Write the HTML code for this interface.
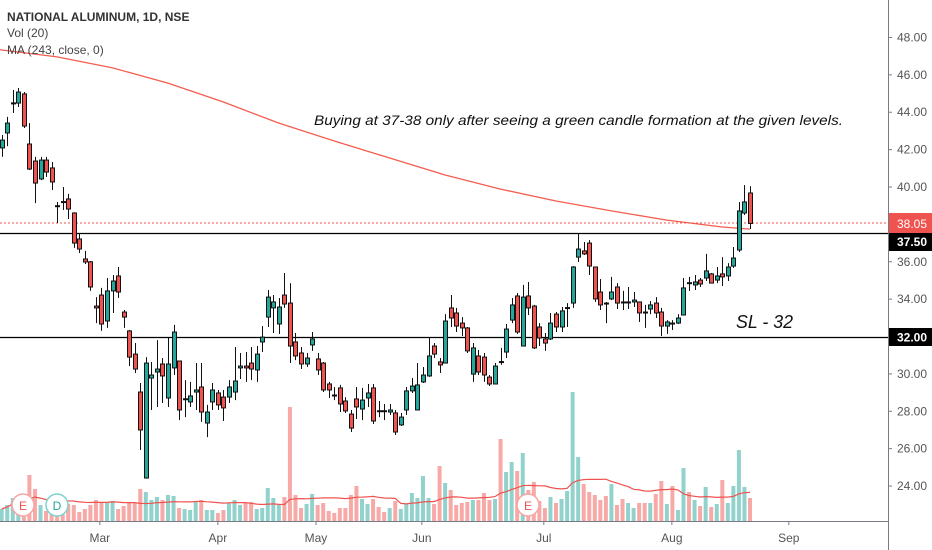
<!DOCTYPE html>
<html><head><meta charset="utf-8">
<style>
html,body{margin:0;padding:0;background:#fff;}
svg{display:block;font-family:"Liberation Sans",sans-serif;}
</style></head>
<body>
<svg id="chart" width="932" height="550" viewBox="0 0 932 550" xmlns="http://www.w3.org/2000/svg">
  <rect x="0" y="0" width="932" height="550" fill="#fff"/>
  <g id="vol"></g>
  <g id="volma"></g>
  <g id="ma"></g>
  <line x1="0" x2="888" y1="223" y2="223" stroke="#ef5350" stroke-width="1" stroke-dasharray="2,2"/>
  <line x1="0" x2="888" y1="233.5" y2="233.5" stroke="#000" stroke-width="1.2"/>
  <line x1="0" x2="888" y1="337.5" y2="337.5" stroke="#000" stroke-width="1.2"/>
  <g id="candles"></g>
  <g id="markers">
    <g><circle cx="23" cy="505" r="11" fill="#fff" stroke="#f7a5a4" stroke-width="1.5"/><text x="23" y="510" font-size="12" fill="#ef5350" text-anchor="middle">E</text></g>
    <g><circle cx="57" cy="505" r="11" fill="#fff" stroke="#7dd3cb" stroke-width="1.5"/><text x="57" y="510" font-size="12" fill="#26a69a" text-anchor="middle">D</text></g>
    <g><circle cx="528" cy="505" r="11" fill="#fff" stroke="#f7a5a4" stroke-width="1.5"/><text x="528" y="510" font-size="12" fill="#ef5350" text-anchor="middle">E</text></g>
  </g>
  <line x1="0" x2="888" y1="521.5" y2="521.5" stroke="#787b86" stroke-width="1"/>
  <line x1="888.5" x2="888.5" y1="0" y2="550" stroke="#787b86" stroke-width="1"/>
  <g id="xaxis"></g>
  <g id="yaxis"></g>
  <g>
    <rect x="889" y="213" width="43" height="20" fill="#ef5350"/>
    <text x="897" y="228" font-size="12" fill="#fff">38.05</text>
    <rect x="889" y="233" width="43" height="18" fill="#000"/>
    <text x="897" y="246" font-size="12" fill="#fff" font-weight="bold">37.50</text>
    <rect x="889" y="328" width="43" height="18" fill="#000"/>
    <text x="897" y="341.5" font-size="12" fill="#fff" font-weight="bold">32.00</text>
  </g>
  <text x="7" y="21" font-size="12" font-weight="bold" fill="#333">NATIONAL ALUMINUM, 1D, NSE</text>
  <text x="7" y="37" font-size="12" fill="#444">Vol (20)</text>
  <text x="7" y="54" font-size="12" fill="#444">MA (243, close, 0)</text>
  <text x="314" y="125" font-size="14" font-style="italic" fill="#111" textLength="529" lengthAdjust="spacingAndGlyphs">Buying at 37-38 only after seeing a green candle formation at the given levels.</text>
  <text x="736" y="328" font-size="18" font-style="italic" fill="#111" textLength="57" lengthAdjust="spacingAndGlyphs">SL - 32</text>
</svg>
<script>
const opens=[42.09,42.89,44.45,44.49,44.98,42.30,41.39,40.43,41.44,41.02,39.0,39.22,39.36,38.61,37.22,36.15,36.0,33.63,34.22,32.83,34.44,35.24,33.31,32.30,31.06,29.03,24.43,29.78,30.1,30.53,28.71,30.32,30.69,28.63,28.50,29.03,29.3,27.37,28.5,28.98,28.76,28.76,29.03,30.32,30.42,30.58,30.21,31.71,33.04,33.53,32.67,34.22,33.79,31.71,31.12,30.53,31.55,30.8,30.58,29.46,28.87,29.25,28.55,27.85,28.66,28.12,28.71,29.25,28.03,28.03,27.96,27.91,27.27,28.07,29.09,28.07,29.57,29.89,31.49,30.64,30.58,33.53,33.26,32.72,32.46,29.99,30.96,30.9,29.83,29.46,30.66,31.17,32.88,34.17,31.49,34.17,33.63,32.51,31.87,31.87,33.2,32.51,33.5,33.79,36.25,36.58,37.0,35.72,34.38,33.79,34.01,34.65,33.85,33.83,33.85,33.85,33.31,33.47,33.79,33.31,32.56,32.72,32.72,33.15,34.88,34.76,35.02,35.13,35.35,35.02,35.35,35.24,35.77,36.63,38.61,39.68];
const highs=[42.78,43.75,45.19,45.30,45.08,43.42,41.61,41.61,41.61,41.34,39.20,40.0,39.63,38.65,37.54,36.58,36.04,34.11,34.6,35.13,35.29,35.72,33.42,32.35,31.65,29.51,30.9,30.64,31.81,30.85,31.92,32.62,30.69,29.67,29.57,30.58,30.58,28.34,29.51,29.14,29.14,29.67,31.44,31.12,31.17,31.44,31.49,32.56,34.49,34.22,34.06,35.4,34.86,32.19,31.44,31.12,32.24,31.12,30.64,29.57,29.3,29.41,28.76,28.07,29.3,29.25,29.46,29.46,28.55,28.39,28.39,28.07,27.91,29.3,29.78,30.58,30.37,31.92,31.65,30.85,33.2,34.22,33.53,33.04,32.51,31.65,31.28,31.12,29.94,30.58,31.39,32.67,34.06,34.33,34.76,34.92,33.69,32.72,32.19,33.26,33.31,33.58,33.79,35.77,37.54,37.06,37.16,35.72,35.08,33.85,35.19,34.86,34.44,34.65,34.38,33.85,33.69,33.9,34.11,33.53,32.88,32.88,33.2,35.13,35.19,35.29,35.13,36.42,35.4,35.72,36.25,35.93,36.79,39.2,40.1,40.05];
const lows=[41.61,42.19,43.96,44.28,43.16,40.91,39.14,40.37,40.54,39.84,38.07,38.77,38.29,36.74,36.47,35.88,34.44,32.72,32.3,32.46,33.26,34.06,32.46,30.42,30.05,25.93,24.4,28.07,28.23,28.44,28.23,29.94,27.53,27.69,28.23,28.07,27.43,26.62,28.07,28.07,27.48,28.44,28.6,29.73,29.57,29.67,29.57,31.17,32.51,32.19,32.14,33.53,30.58,30.74,30.26,30.37,31.23,29.94,29.03,28.71,28.6,27.96,27.91,26.89,27.59,27.53,28.23,27.32,27.69,27.53,27.8,26.73,27.21,27.8,28.98,28.07,29.51,29.84,30.85,30.05,30.58,32.51,32.24,32.03,31.12,29.57,29.94,29.57,29.35,29.46,30.48,30.85,32.72,32.14,31.49,33.15,31.33,31.49,31.23,31.81,32.24,32.24,32.51,33.53,35.99,36.36,35.29,33.85,33.42,32.72,33.95,33.47,33.42,33.47,33.58,32.78,32.46,33.2,32.99,32.03,32.14,32.35,32.67,33.15,34.44,34.49,34.65,34.97,34.86,34.86,34.7,34.97,35.67,36.52,38.5,37.75];
const closes=[42.51,43.42,44.5,45.08,43.26,40.96,40.21,41.44,40.80,40.27,38.98,39.18,38.82,37.0,36.68,35.99,34.65,33.53,32.67,34.44,34.97,34.38,33.04,30.90,30.26,27.0,30.58,29.94,30.26,29.89,30.53,32.24,28.07,28.67,28.82,29.14,27.96,27.96,29.14,28.34,28.18,29.3,29.62,30.42,30.32,30.26,31.06,31.97,34.11,33.85,33.58,33.74,31.49,30.96,30.53,30.85,31.87,30.21,29.14,29.14,28.85,28.39,28.02,27.1,28.23,28.6,28.98,27.48,28.0,28.0,28.07,26.89,27.69,29.09,29.35,29.41,29.94,30.96,31.06,30.48,32.83,32.99,32.56,32.46,31.23,31.39,30.1,29.94,29.46,30.42,30.62,32.4,33.69,32.24,34.11,33.53,31.39,31.92,31.65,32.72,32.51,33.37,33.55,35.72,36.68,36.42,35.77,34.01,33.69,33.77,34.38,33.79,33.83,33.85,33.95,33.26,33.3,33.69,33.26,32.56,32.78,32.7,32.99,34.6,34.86,34.92,34.81,35.51,34.86,35.24,35.19,35.72,36.2,38.72,39.2,38.05];
const volumes=[1.2,1.6,2.3,2.0,1.8,4.6,3.2,1.6,1.0,2.0,1.7,1.5,1.7,1.6,0.9,1.2,1.6,2.1,1.8,1.9,2.0,1.2,1.5,1.8,1.8,3.2,2.9,2.1,2.4,2.1,2.6,2.5,1.3,1.2,1.1,1.9,2.1,1.1,1.1,0.8,1.1,1.8,2.1,1.6,1.8,1.9,1.2,1.3,3.3,2.3,1.6,2.4,11.4,2.6,1.3,1.7,2.7,1.6,1.8,1.0,0.8,1.3,1.3,2.6,3.5,2.2,1.7,2.2,1.4,0.9,1.3,2.0,1.2,1.7,2.8,2.3,4.5,2.3,1.7,5.5,3.8,3.1,1.6,1.8,1.9,2.1,2.1,2.8,2.1,2.2,8.2,4.9,5.9,5.0,6.8,3.1,3.9,2.0,1.3,2.4,1.8,2.2,3.0,12.9,6.4,3.7,2.9,2.6,2.1,2.5,3.7,1.6,2.2,1.8,1.3,1.8,1.8,1.8,2.7,4.0,1.7,3.5,1.1,5.3,2.9,2.1,1.5,3.4,1.4,1.7,4.1,1.8,3.5,7.1,3.4,2.3];
const maIdx=[0,10,20,30,40,50,60,70,80,90,100,110,120,130,135];
const maVals=[47.33,46.96,46.37,45.56,44.55,43.42,42.46,41.55,40.64,39.89,39.25,38.72,38.23,37.86,37.75];
const priceTicks=[48,46,44,42,40,36,34,30,28,26,24];
const monthLabels=["Mar","Apr","May","Jun","Jul","Aug","Sep"];
const monthBarIdx=[17.7,39,56.7,75.8,97.8,120.9,142];

const NS="http://www.w3.org/2000/svg";
const X0=1.7, STEP=5.543;
function xs(i){return X0+i*STEP;}
function ys(p){return 187+(40-p)*18.69;}
function yv(v){return 521-v*10;}
function mk(tag,attrs,parent){const e=document.createElementNS(NS,tag);for(const k in attrs)e.setAttribute(k,attrs[k]);parent.appendChild(e);return e;}

const gV=document.getElementById('vol');
for(let i=0;i<volumes.length;i++){
  const up=closes[i]>=opens[i];
  const r=mk('rect',{x:xs(i)-2,y:yv(volumes[i]),width:4,height:521-yv(volumes[i]),fill:up?'#26a69a':'#ef5350','fill-opacity':0.5},gV);
  
  
}
// volume MA(20)
let pts=[];
for(let i=0;i<volumes.length;i++){
  const s=Math.max(0,i-19);let sum=0;for(let j=s;j<=i;j++)sum+=volumes[j];
  pts.push(xs(i).toFixed(1)+','+yv(sum/(i-s+1)).toFixed(1));
}
const vl=mk('polyline',{points:pts.join(' '),fill:'none',stroke:'#ef5350','stroke-width':1.2},document.getElementById('volma'));


// MA 243
let mp=['0,'+ys(maVals[0]+0.02).toFixed(1)];
for(let k=0;k<maIdx.length;k++)mp.push(xs(maIdx[k]).toFixed(1)+','+ys(maVals[k]).toFixed(1));
const ml=mk('polyline',{points:mp.join(' '),fill:'none',stroke:'#f45d4f','stroke-width':1.3,'stroke-linejoin':'round'},document.getElementById('ma'));


// candles
const gC=document.getElementById('candles');
for(let i=0;i<opens.length;i++){
  const up=closes[i]>=opens[i];
  const g=mk('g',{},gC);
  
  
  const x=Math.round(xs(i))+0.5;
  mk('line',{x1:x,x2:x,y1:ys(highs[i]),y2:ys(lows[i]),stroke:'#111','stroke-width':1},g);
  const top=ys(Math.max(opens[i],closes[i])), bot=ys(Math.min(opens[i],closes[i]));
  mk('rect',{x:x-2,y:top,width:4,height:Math.max(1,bot-top),fill:up?'#26a69a':'#ef5350',stroke:'#111','stroke-width':1},g);
}
// y axis
const gY=document.getElementById('yaxis');
for(const t of priceTicks){
  const y=ys(t);
  mk('line',{x1:888,x2:892,y1:y,y2:y,stroke:'#787b86'},gY);
  const tx=mk('text',{x:897,y:y+4,'font-size':12,fill:'#555'},gY);
  tx.textContent=t.toFixed(2);
  
  
}
// x axis
const gX=document.getElementById('xaxis');
for(let k=0;k<monthLabels.length;k++){
  const x=xs(monthBarIdx[k]);
  mk('line',{x1:x,x2:x,y1:521,y2:525,stroke:'#787b86'},gX);
  const tx=mk('text',{x:x,y:542,'font-size':12,fill:'#555','text-anchor':'middle'},gX);
  tx.textContent=monthLabels[k];
  
  
}
</script>
</body></html>
